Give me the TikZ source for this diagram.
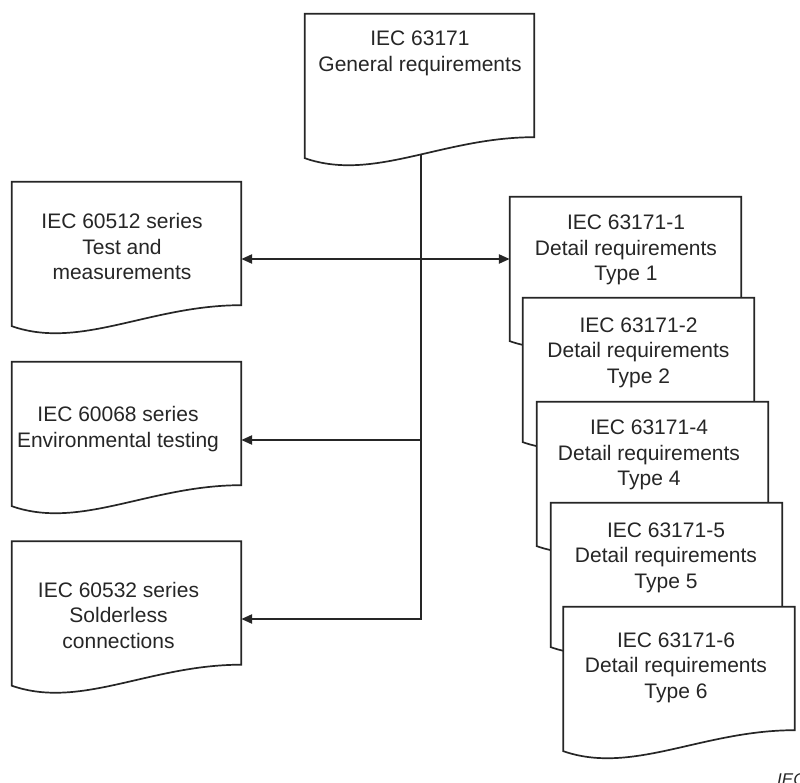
\documentclass[tikz,border=0pt]{standalone}
\usepackage{fontspec}
\setmainfont{Liberation Sans}
\usetikzlibrary{arrows.meta,calc}
\definecolor{ink}{HTML}{262626}
\tikzset{
  docbox/.style={minimum width=229pt, minimum height=123pt, inner sep=0pt, draw=none},
  rdocbox/.style={minimum width=231pt, minimum height=123pt, inner sep=0pt, draw=none},
  docline/.style={draw=ink, line width=1.7pt, fill=white, line join=miter},
  doctext/.style={align=center, anchor=base, inner sep=0pt, text=ink, font=\fontsize{21}{25.5}\selectfont},
  conn/.style={draw=ink, line width=2.4pt},
  arr/.style={conn, -{Triangle[length=11pt,width=9pt]}},
  biarr/.style={conn, {Triangle[length=11pt,width=9pt]}-{Triangle[length=11pt,width=9pt]}},
}
\newcommand\docoutline[1]{%
  \path[docline] (#1.north west) -- (#1.north east) -- (#1.south east)
    .. controls ($(#1.south west)!0.6!(#1.south east)$) and ($(#1.south west)!0.3!(#1.south east)+(0,45)$)
    .. ($(#1.south west)+(0,21)$) -- cycle;}
\begin{document}
\begin{tikzpicture}[x=1pt,y=-1pt]
\useasboundingbox (0,0) rectangle (800,783);
\fill[white] (0,0) rectangle (800,783);

% invisible boxes defining the document shapes
\node[docbox] (top) at (419.5,75.5) {};
\node[docbox] (A) at (126.5,243.5) {};
\node[docbox] (B) at (126.5,423.5) {};
\node[docbox] (C) at (126.5,603) {};
\node[rdocbox] (R1) at (625.5,258.5) {};
\node[rdocbox] (R2) at (638.5,359.5) {};
\node[rdocbox] (R4) at (652.5,463.5) {};
\node[rdocbox] (R5) at (666.5,564.5) {};
\node[rdocbox] (R6) at (679,668.5) {};

\coordinate (stemtop) at (421,150);
\coordinate (j1) at (421,259);
\coordinate (j2) at (421,440);
\coordinate (j3) at (421,619);

% connectors
\draw[arr] (stemtop) -- (j3) -- (C.east |- j3);
\draw[arr] (j2) -- (B.east |- j2);
\draw[biarr] (A.east |- j1) -- (R1.west |- j1);

% top document
\docoutline{top}
\node[doctext] (t0) at (420,71.5) {IEC 63171\\General requirements};

% left documents
\docoutline{A}
\node[doctext] (tA) at (122,280) {IEC 60512 series\\Test and\\measurements};
\docoutline{B}
\node[doctext] (tB) at (118,447) {IEC 60068 series\\Environmental testing};
\docoutline{C}
\node[doctext] (tC) at (118.5,648) {IEC 60532 series\\Solderless\\connections};

% right stacked documents
\docoutline{R1}
\node[doctext] (t1) at (626,281) {IEC 63171-1\\Detail requirements\\Type 1};
\docoutline{R2}
\node[doctext] (t2) at (638.5,383) {IEC 63171-2\\Detail requirements\\Type 2};
\docoutline{R4}
\node[doctext] (t4) at (649,485.5) {IEC 63171-4\\Detail requirements\\Type 4};
\docoutline{R5}
\node[doctext] (t5) at (666,588) {IEC 63171-5\\Detail requirements\\Type 5};
\docoutline{R6}
\node[doctext] (t6) at (676,698) {IEC 63171-6\\Detail requirements\\Type 6};

% cropped source label
\node[anchor=north west, inner sep=0pt, text=ink, font=\fontsize{17}{20}\selectfont\itshape] (iec) at (777,773) {IEC};
\end{tikzpicture}
\end{document}
